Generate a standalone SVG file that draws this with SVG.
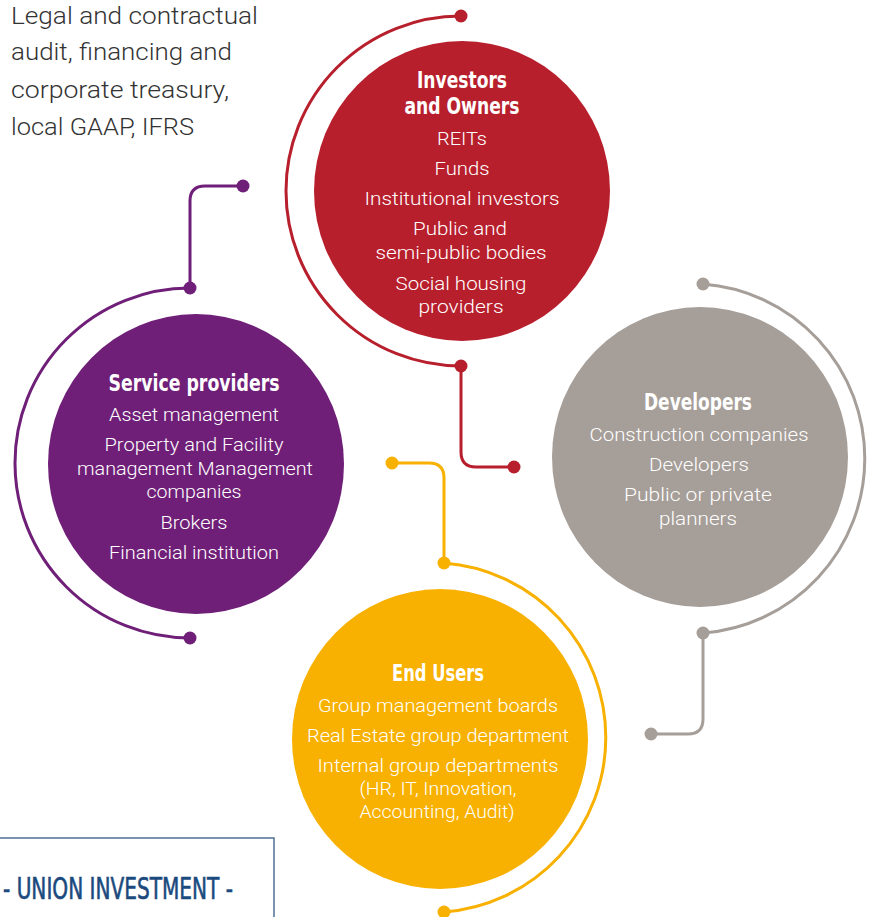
<svg xmlns="http://www.w3.org/2000/svg" width="886" height="917" viewBox="0 0 886 917">
<style>
.body{font-family:Roboto,"Open Sans","DejaVu Sans",sans-serif;font-weight:300;font-size:18px;fill:#ffffff;text-anchor:middle}
.title{font-family:"Liberation Sans Narrow","DejaVu Sans Condensed","Liberation Sans",sans-serif;font-weight:bold;font-size:23px;fill:#ffffff;text-anchor:middle}
.side{font-family:Roboto,"Open Sans","DejaVu Sans",sans-serif;font-weight:300;font-size:23px;fill:#333333}
.brand{font-family:"Liberation Sans Narrow","DejaVu Sans Condensed","Liberation Sans",sans-serif;font-weight:normal;font-size:30px;fill:#1b4a7e;stroke:#1b4a7e;stroke-width:0.6}
.ln{fill:none;stroke-width:3;stroke-linecap:round}
.red{stroke:#b81f2d}.redf{fill:#b81f2d}
.pur{stroke:#6f1f78}.purf{fill:#6f1f78}
.gry{stroke:#a69e98}.gryf{fill:#a69e98}
.yel{stroke:#f8b100}.yelf{fill:#f8b100}
</style>
<rect width="886" height="917" fill="#ffffff"/>

<g id="connectors">
  <path class="ln red" d="M461,16 A175,175 0 0 0 461,366 V452 Q461,467 476,467 H514"/>
  <circle class="redf" cx="461" cy="16" r="6.5"/>
  <circle class="redf" cx="461" cy="366" r="6.5"/>
  <circle class="redf" cx="514" cy="467" r="6.5"/>

  <path class="ln pur" d="M243,186 H205 Q190,186 190,201 V288 A175,175 0 0 0 190,638"/>
  <circle class="purf" cx="243" cy="186" r="6.5"/>
  <circle class="purf" cx="190" cy="288" r="6.5"/>
  <circle class="purf" cx="190" cy="638" r="6.5"/>

  <path class="ln gry" d="M703,284 A175,175 0 0 1 703,633 V719 Q703,734 688,734 H651"/>
  <circle class="gryf" cx="703" cy="284" r="6.5"/>
  <circle class="gryf" cx="703" cy="633" r="6.5"/>
  <circle class="gryf" cx="651" cy="734" r="6.5"/>

  <path class="ln yel" d="M392,463 H429 Q444,463 444,478 V563 A175,175 0 0 1 444,912"/>
  <circle class="yelf" cx="392" cy="463" r="6.5"/>
  <circle class="yelf" cx="444" cy="563" r="6.5"/>
  <circle class="yelf" cx="444" cy="912" r="6.5"/>
</g>

<g id="node-investors">
  <ellipse cx="462" cy="191" rx="148" ry="150" fill="#b81f2d"/>
  <text class="title" x="462" y="88" textLength="90" lengthAdjust="spacingAndGlyphs">Investors</text>
  <text class="title" x="462" y="114" textLength="115" lengthAdjust="spacingAndGlyphs">and Owners</text>
  <text class="body" x="462" y="145" textLength="50" lengthAdjust="spacingAndGlyphs">REITs</text>
  <text class="body" x="462" y="175" textLength="55" lengthAdjust="spacingAndGlyphs">Funds</text>
  <text class="body" x="462" y="205" textLength="195" lengthAdjust="spacingAndGlyphs">Institutional investors</text>
  <text class="body" x="460" y="235" textLength="94" lengthAdjust="spacingAndGlyphs">Public and</text>
  <text class="body" x="461" y="259" textLength="171" lengthAdjust="spacingAndGlyphs">semi-public bodies</text>
  <text class="body" x="461" y="290" textLength="131" lengthAdjust="spacingAndGlyphs">Social housing</text>
  <text class="body" x="461" y="313" textLength="85" lengthAdjust="spacingAndGlyphs">providers</text>
</g>

<g id="node-service">
  <ellipse cx="196" cy="464" rx="148" ry="150" fill="#6f1f78"/>
  <text class="title" x="194" y="391" textLength="171" lengthAdjust="spacingAndGlyphs">Service providers</text>
  <text class="body" x="194" y="421" textLength="170" lengthAdjust="spacingAndGlyphs">Asset management</text>
  <text class="body" x="194" y="451" textLength="179" lengthAdjust="spacingAndGlyphs">Property and Facility</text>
  <text class="body" x="195" y="475" textLength="236" lengthAdjust="spacingAndGlyphs">management Management</text>
  <text class="body" x="194" y="498" textLength="95" lengthAdjust="spacingAndGlyphs">companies</text>
  <text class="body" x="194" y="529" textLength="67" lengthAdjust="spacingAndGlyphs">Brokers</text>
  <text class="body" x="194" y="559" textLength="170" lengthAdjust="spacingAndGlyphs">Financial institution</text>
</g>

<g id="node-developers">
  <ellipse cx="700" cy="457" rx="148" ry="150" fill="#a69e98"/>
  <text class="title" x="698" y="410" textLength="108" lengthAdjust="spacingAndGlyphs">Developers</text>
  <text class="body" x="699" y="441" textLength="219" lengthAdjust="spacingAndGlyphs">Construction companies</text>
  <text class="body" x="699" y="471" textLength="100" lengthAdjust="spacingAndGlyphs">Developers</text>
  <text class="body" x="698" y="501" textLength="148" lengthAdjust="spacingAndGlyphs">Public or private</text>
  <text class="body" x="698" y="525" textLength="78" lengthAdjust="spacingAndGlyphs">planners</text>
</g>

<g id="node-endusers">
  <ellipse cx="440" cy="739" rx="148" ry="150" fill="#f8b100"/>
  <text class="title" x="438" y="681" textLength="92" lengthAdjust="spacingAndGlyphs">End Users</text>
  <text class="body" x="438" y="712" textLength="240" lengthAdjust="spacingAndGlyphs">Group management boards</text>
  <text class="body" x="438" y="742" textLength="262" lengthAdjust="spacingAndGlyphs">Real Estate group department</text>
  <text class="body" x="438" y="772" textLength="241" lengthAdjust="spacingAndGlyphs">Internal group departments</text>
  <text class="body" x="438" y="795" textLength="157" lengthAdjust="spacingAndGlyphs">(HR, IT, Innovation,</text>
  <text class="body" x="437" y="818" textLength="155" lengthAdjust="spacingAndGlyphs">Accounting, Audit)</text>
</g>

<g id="side-note">
  <text class="side" x="11" y="24" textLength="247" lengthAdjust="spacingAndGlyphs">Legal and contractual</text>
  <text class="side" x="11" y="60" textLength="221" lengthAdjust="spacingAndGlyphs">audit, financing and</text>
  <text class="side" x="11" y="98" textLength="218" lengthAdjust="spacingAndGlyphs">corporate treasury,</text>
  <text class="side" x="11" y="135" textLength="183" lengthAdjust="spacingAndGlyphs">local GAAP, IFRS</text>
</g>

<g id="brand-box">
  <rect x="-5" y="838" width="279" height="100" fill="none" stroke="#4d6f96" stroke-width="1.5"/>
  <text class="brand" x="3" y="899" textLength="230" lengthAdjust="spacingAndGlyphs">- UNION INVESTMENT -</text>
</g>
</svg>
